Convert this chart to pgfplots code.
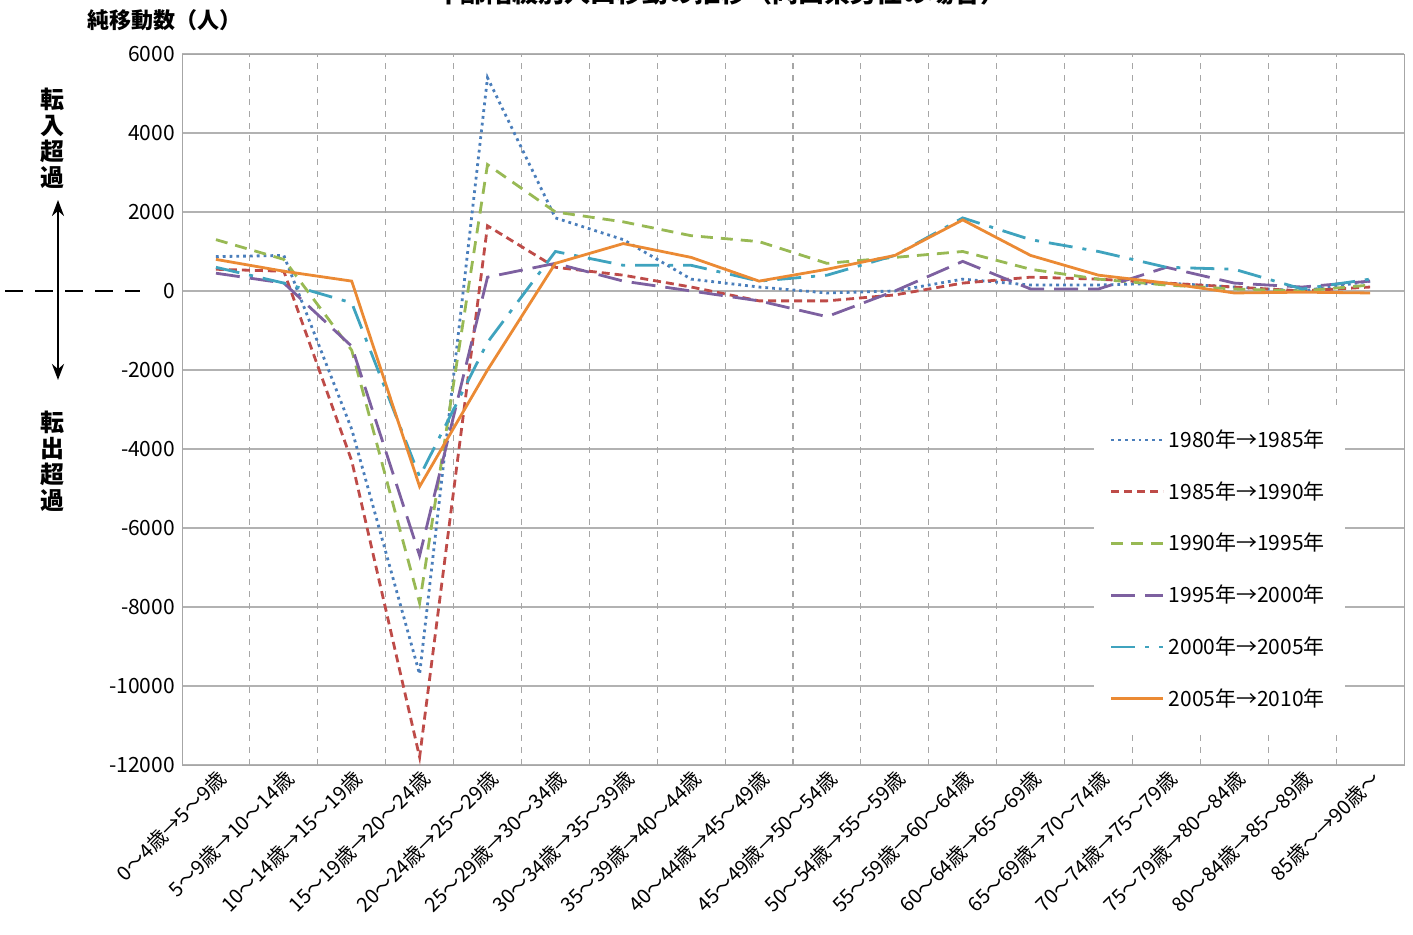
\documentclass[border=0pt]{standalone}
\usepackage{pgfplots}
\pgfplotsset{compat=1.18}
\usetikzlibrary{arrows.meta}
\usepackage{fontspec}
\setmainfont{Noto Sans CJK JP}
\definecolor{c1}{HTML}{4A7EBB}
\definecolor{c2}{HTML}{BE4B48}
\definecolor{c3}{HTML}{98B954}
\definecolor{c4}{HTML}{7D60A0}
\definecolor{c5}{HTML}{3FA3BE}
\definecolor{c6}{HTML}{EB8A34}
\begin{document}
\begin{tikzpicture}[x=0.5pt,y=0.5pt]
\useasboundingbox (0,0) rectangle (1413,935);
\node[font=\bfseries\fontsize{13}{14}\selectfont] at (720,942) {年齢階級別人口移動の推移（岡山県男性の場合）};
\node[font=\bfseries\fontsize{11}{13}\selectfont,anchor=west] at (80,915) {純移動数（人）};
\node[font=\bfseries\fontsize{12}{13}\selectfont,align=center] at (52,797) {転\\入\\超\\過};
\node[font=\bfseries\fontsize{12}{13}\selectfont,align=center] at (52,474) {転\\出\\超\\過};
\draw[-{Stealth[length=8pt,width=6pt]},line width=1.3pt] (58,644) -- (58,735);
\draw[-{Stealth[length=8pt,width=6pt]},line width=1.3pt] (58,644) -- (58,555);
\draw[line width=1.3pt,dash pattern=on 9pt off 6pt] (5,644) -- (140,644);
\begin{axis}[at={(91pt,85pt)},anchor=south west,scale only axis,
  width=611pt,height=355.5pt,
  xmin=-0.5,xmax=17.5,ymin=-12000,ymax=6000,
  ytick={-12000,-10000,...,6000},
  xtick={0,...,17},
  xticklabels={0～4歳→5～9歳,5～9歳→10～14歳,10～14歳→15～19歳,15～19歳→20～24歳,20～24歳→25～29歳,25～29歳→30～34歳,30～34歳→35～39歳,35～39歳→40～44歳,40～44歳→45～49歳,45～49歳→50～54歳,50～54歳→55～59歳,55～59歳→60～64歳,60～64歳→65～69歳,65～69歳→70～74歳,70～74歳→75～79歳,75～79歳→80～84歳,80～84歳→85～89歳,85歳～→90歳～},
  xticklabel style={rotate=45,anchor=north east,font=\fontsize{10}{11}\selectfont,inner sep=1pt},
  yticklabel style={font=\fontsize{10.5}{12}\selectfont},
  /pgf/number format/assume math mode=true,
  scaled y ticks=false,
  yticklabel={\pgfmathprintnumber[fixed,set thousands separator={}]{\tick}},
  tick style={draw=none},
  axis line style={draw=gray!70},
  ymajorgrids, grid style={gray!60,line width=0.8pt},
  extra x ticks={0.5,1.5,...,16.5},extra x tick labels={},
  extra x tick style={xmajorgrids,grid style={dashed,gray!70,line width=0.6pt},ymajorgrids=false},
  legend cell align=left,
  legend style={at={(0.952,0.05)},anchor=south east,draw=none,fill=white,
    font=\fontsize{10.5}{12}\selectfont,row sep=11.5pt,inner xsep=8pt,inner ysep=8pt},
  legend image code/.code={\draw[#1] (0pt,0pt) -- (26pt,0pt);},
  every axis plot/.append style={line width=1.4pt},
]
\addplot[c1,dotted] coordinates {(0,870)(1,900)(2,-3500)(3,-9700)(4,5400)(5,1850)(6,1300)(7,300)(8,100)(9,-50)(10,0)(11,300)(12,150)(13,150)(14,200)(15,100)(16,0)(17,250)};
\addplot[c2,dash pattern=on 4pt off 2.5pt] coordinates {(0,550)(1,500)(2,-4300)(3,-11800)(4,1650)(5,600)(6,400)(7,100)(8,-250)(9,-250)(10,-100)(11,200)(12,350)(13,300)(14,200)(15,100)(16,0)(17,100)};
\addplot[c3,dash pattern=on 6pt off 4pt] coordinates {(0,1300)(1,800)(2,-1500)(3,-7900)(4,3200)(5,2000)(6,1750)(7,1400)(8,1250)(9,700)(10,850)(11,1000)(12,550)(13,300)(14,150)(15,50)(16,0)(17,150)};
\addplot[c4,dash pattern=on 12pt off 5pt] coordinates {(0,450)(1,200)(2,-1400)(3,-6700)(4,350)(5,700)(6,250)(7,0)(8,-250)(9,-650)(10,0)(11,750)(12,50)(13,50)(14,600)(15,200)(16,100)(17,250)};
\addplot[c5,dash pattern=on 12pt off 5pt on 2pt off 5pt] coordinates {(0,600)(1,200)(2,-300)(3,-4700)(4,-1300)(5,1000)(6,650)(7,650)(8,250)(9,400)(10,900)(11,1850)(12,1300)(13,1000)(14,600)(15,550)(16,50)(17,300)};
\addplot[c6] coordinates {(0,800)(1,500)(2,250)(3,-4950)(4,-2000)(5,700)(6,1200)(7,850)(8,250)(9,550)(10,900)(11,1800)(12,900)(13,400)(14,200)(15,-50)(16,-30)(17,-50)};
\legend{1980年→1985年,1985年→1990年,1990年→1995年,1995年→2000年,2000年→2005年,2005年→2010年}
\end{axis}
\end{tikzpicture}
\end{document}
